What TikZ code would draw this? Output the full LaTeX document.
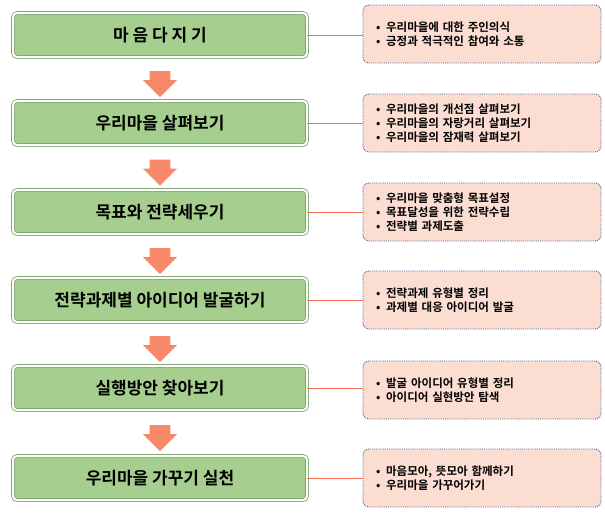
\documentclass[tikz,border=0pt]{standalone}
\usepackage{fontspec}
\setmainfont{Noto Sans CJK KR}[BoldFont={Noto Sans CJK KR Bold}]
\usetikzlibrary{shapes.arrows,calc}
\definecolor{gfill}{HTML}{A6CE8F}
\definecolor{gdraw}{HTML}{7FA86A}
\definecolor{pfill}{HTML}{FBDDD2}
\definecolor{bdot}{HTML}{4A6A9A}
\definecolor{arr}{HTML}{F7896A}
\tikzset{
 x=1pt,y=-1pt,
 stage/.style={draw=gdraw,line width=0.8pt,fill=gfill,rounded corners=4pt,minimum width=294pt,minimum height=44pt,font=\fontsize{17}{19}\selectfont,double=white,double distance=2pt},
 info/.style={draw=bdot,densely dotted,line width=0.9pt,fill=pfill,rounded corners=6pt,minimum width=238pt,minimum height=58pt,align=left,font=\fontsize{11.5}{14}\selectfont,text width=212pt},
 link/.style={draw=arr!80!red,line width=0.8pt},
 darr/.style={single arrow,shape border rotate=270,fill=arr,minimum width=34pt,minimum height=26pt,single arrow head extend=2pt,inner sep=3pt}
}
\begin{document}
\begin{tikzpicture}
\useasboundingbox (0,0) rectangle (605,515);
\foreach \i/\y/\t/\b/\ry in {
 1/35/{마 음 다 지 기}/{•\enspace 우리마을에 대한 주인의식\\•\enspace 긍정과 적극적인 참여와 소통}/34,
 2/123/{우리마을 살펴보기}/{•\enspace 우리마을의 개선점 살펴보기\\•\enspace 우리마을의 자랑거리 살펴보기\\•\enspace 우리마을의 잠재력 살펴보기}/123,
 3/212/{목표와 전략세우기}/{•\enspace 우리마을 맞춤형 목표설정\\•\enspace 목표달성을 위한 전략수립\\•\enspace 전략별 과제도출}/212,
 4/300/{전략과제별 아이디어 발굴하기}/{•\enspace 전략과제 유형별 정리\\•\enspace 과제별 대응 아이디어 발굴}/300,
 5/388/{실행방안 찾아보기}/{•\enspace 발굴 아이디어 유형별 정리\\•\enspace 아이디어 실현방안 탐색}/390,
 6/478/{우리마을 가꾸기 실천}/{•\enspace 마음모아, 뜻모아 함께하기\\•\enspace 우리마을 가꾸어가기}/478}{
 \node[stage] (s\i) at (160,\y) {\textbf{\t}};
 \node[info] (r\i) at (482,\ry) {\bfseries \b};
 \draw[link] (s\i.east) -- (r\i.west |- s\i.east);
}
\foreach \a/\b in {1/2,2/3,3/4,4/5,5/6}{
 \node[darr] (a\a) at ($(s\a.south)!0.5!(s\b.north)$) {};
}
\end{tikzpicture}
\end{document}
